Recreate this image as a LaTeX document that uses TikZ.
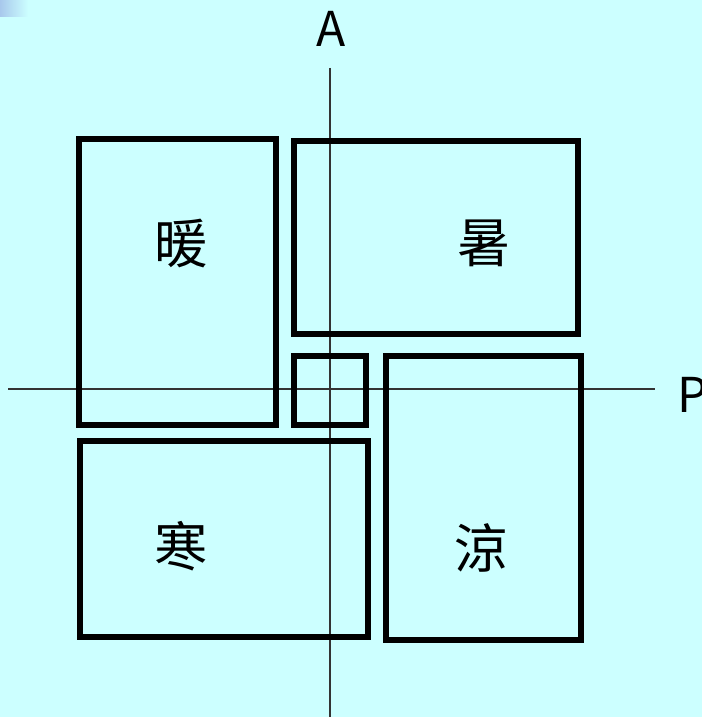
\documentclass[tikz,border=0pt]{standalone}
\usepackage{fontspec}
\newfontfamily\cjk{Noto Sans CJK SC}
\definecolor{bg}{HTML}{CCFFFF}
\definecolor{corner}{HTML}{A8C8EC}
\begin{document}
\begin{tikzpicture}[x=0.75pt,y=-0.75pt,
  box/.style={draw=black,line width=4.5pt},
  axis/.style={draw=black!80,line width=0.8pt},
  hanzi/.style={font=\cjk\fontsize{40}{40}\selectfont},
  axlabel/.style={font=\cjk\fontsize{36}{36}\selectfont}]
\fill[bg] (0,0) rectangle (702,717);
\shade[left color=corner,right color=bg] (0,0) rectangle (28,17);
\useasboundingbox (0,0) rectangle (702,717);
\coordinate (vtop) at (330,68);
\coordinate (vbot) at (330,717);
\coordinate (hl) at (8,389);
\coordinate (hr) at (655,389);
\draw[axis] (vtop) -- (vbot);
\draw[axis] (hl) -- (hr);
\node[axlabel,anchor=center] (A) at (331,29) {A};
\node[axlabel,anchor=west] (P) at (673,395) {P};
\draw[box] (79,139) rectangle (276,425);
\draw[box] (294,141) rectangle (578,334);
\draw[box] (294,356) rectangle (366,425);
\draw[box] (80,441) rectangle (368,637);
\draw[box] (386,356) rectangle (581,640);
\node[hanzi] (nuan) at (181,243) {暖};
\node[hanzi] (shu) at (484,243) {暑};
\node[hanzi] (han) at (181,546) {寒};
\node[hanzi] (liang) at (481,548) {涼};
\end{tikzpicture}
\end{document}
